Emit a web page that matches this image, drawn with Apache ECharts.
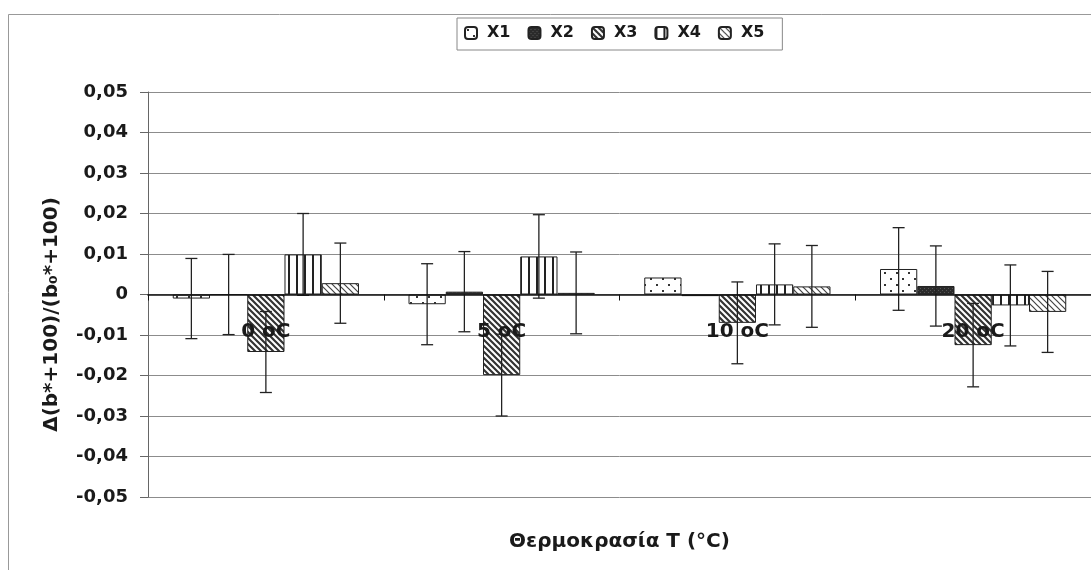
<!DOCTYPE html>
<html>
<head>
<meta charset="utf-8">
<style>
  html, body { margin: 0; padding: 0; background: #fff; }
  #chart { width: 1091px; height: 570px; }
</style>
<script src="https://cdn.jsdelivr.net/npm/echarts@6/dist/echarts.min.js"></script>
</head>
<body>
<div id="chart"></div>
<script>
// categories and values
var categories = ['0 oC', '5 oC', '10 oC', '20 oC'];
var seriesNames = ['X1', 'X2', 'X3', 'X4', 'X5'];

var x1 = [-0.0010, -0.0024, 0.0042, 0.0063];
var x2 = [0.0000, 0.0007, -0.0004, 0.0021];
var x3 = [-0.0142, -0.0199, -0.0070, -0.0125];
var x4 = [0.0099, 0.0094, 0.0025, -0.0027];
var x5 = [0.0028, 0.0004, 0.0020, -0.0043];

// error bar half-lengths (null = not drawn)
var e1 = [0.0099, 0.0100, null, 0.0102];
var e2 = [0.0099, 0.0099, null, 0.0099];
var e3 = [0.0100, 0.0101, 0.0101, 0.0103];
var e4 = [0.0101, 0.0103, 0.0100, 0.0100];
var e5 = [0.0099, 0.0101, 0.0101, 0.0100];

var values = [x1, x2, x3, x4, x5];
var errors = [e1, e2, e3, e4, e5];

var FONT = 'DejaVu Sans';
var CAT_GAP = 0.21;

// hatch patterns, like the old excel fills
function makePattern(w, h, draw) {
    var c = document.createElement('canvas');
    c.width = w;
    c.height = h;
    var ctx = c.getContext('2d');
    draw(ctx, w, h);
    return { image: c, repeat: 'repeat' };
}

var patterns = [
    // X1 dots
    makePattern(12, 12, function (ctx, w, h) {
        ctx.fillStyle = '#fff';
        ctx.fillRect(0, 0, w, h);
        ctx.fillStyle = '#333';
        ctx.fillRect(2, 2, 2, 2);
        ctx.fillRect(8, 8, 2, 2);
    }),
    // X2 dark
    makePattern(4, 4, function (ctx, w, h) {
        ctx.fillStyle = '#2b2b2b';
        ctx.fillRect(0, 0, w, h);
        ctx.fillStyle = '#555';
        ctx.fillRect(0, 0, 1, 1);
        ctx.fillRect(2, 2, 1, 1);
    }),
    // X3 dense backslash stripes
    makePattern(6, 6, function (ctx, w, h) {
        ctx.fillStyle = '#fff';
        ctx.fillRect(0, 0, w, h);
        ctx.strokeStyle = '#333';
        ctx.lineWidth = 2.2;
        ctx.beginPath();
        ctx.moveTo(-1, -1); ctx.lineTo(7, 7);
        ctx.moveTo(-4, 2); ctx.lineTo(4, 10);
        ctx.moveTo(2, -4); ctx.lineTo(10, 4);
        ctx.stroke();
    }),
    // X4 vertical stripes
    makePattern(8, 4, function (ctx, w, h) {
        ctx.fillStyle = '#fff';
        ctx.fillRect(0, 0, w, h);
        ctx.fillStyle = '#222';
        ctx.fillRect(0, 0, 2, h);
    }),
    // X5 thin backslash hatch
    makePattern(6, 6, function (ctx, w, h) {
        ctx.fillStyle = '#fff';
        ctx.fillRect(0, 0, w, h);
        ctx.strokeStyle = '#444';
        ctx.lineWidth = 1.2;
        ctx.beginPath();
        ctx.moveTo(-1, -1); ctx.lineTo(7, 7);
        ctx.moveTo(-4, 2); ctx.lineTo(4, 10);
        ctx.moveTo(2, -4); ctx.lineTo(10, 4);
        ctx.stroke();
    })
];

function errorSeries(idx) {
    var data = [];
    values[idx].forEach(function (v, i) {
        var e = errors[idx][i];
        if (e != null) data.push([i, v - e, v + e]);
    });
    return {
        type: 'custom',
        name: 'err' + idx,
        silent: true,
        z: 10,
        data: data,
        encode: { x: 0, y: [1, 2] },
        renderItem: function (params, api) {
            var cat = api.value(0);
            var lo = api.coord([cat, api.value(1)]);
            var hi = api.coord([cat, api.value(2)]);
            var catW = api.size([1, 0])[0];
            var barW = catW * (1 - CAT_GAP) / seriesNames.length;
            var x = lo[0] + (idx - 2) * barW;
            var cap = 6;
            var st = { stroke: '#222', lineWidth: 1.3 };
            return {
                type: 'group',
                children: [
                    { type: 'line', shape: { x1: x, y1: hi[1], x2: x, y2: lo[1] }, style: st },
                    { type: 'line', shape: { x1: x - cap, y1: hi[1], x2: x + cap, y2: hi[1] }, style: st },
                    { type: 'line', shape: { x1: x - cap, y1: lo[1], x2: x + cap, y2: lo[1] }, style: st }
                ]
            };
        }
    };
}

var chart = echarts.init(document.getElementById('chart'));

var series = seriesNames.map(function (name, i) {
    return {
        name: name,
        type: 'bar',
        data: values[i],
        barGap: '0%',
        barCategoryGap: (CAT_GAP * 100) + '%',
        itemStyle: {
            color: patterns[i],
            borderColor: '#222',
            borderWidth: 1
        }
    };
});
for (var k = 0; k < seriesNames.length; k++) series.push(errorSeries(k));

var option = {
    backgroundColor: '#fff',
    animation: false,
    graphic: [{
        type: 'rect',
        shape: { x: 8.5, y: 14.5, width: 1200, height: 700 },
        style: { fill: 'none', stroke: '#999', lineWidth: 1 },
        silent: true,
        z: -10
    }],
    legend: {
        data: seriesNames,
        top: 18,
        left: 457,
        itemWidth: 12,
        itemHeight: 12,
        itemGap: 17,
        padding: [7, 18, 9, 7],
        borderColor: '#888',
        borderWidth: 1,
        textStyle: {
            fontFamily: FONT,
            fontWeight: 'bold',
            fontSize: 16,
            color: '#1a1a1a',
            padding: [0, 0, 0, 5]
        }
    },
    grid: { left: 148, right: 0, top: 92, bottom: 73, containLabel: false, outerBoundsMode: 'none' },
    xAxis: {
        type: 'category',
        data: categories,
        z: 20,
        name: 'Θερμοκρασία T (°C)',
        nameLocation: 'middle',
        nameGap: 35,
        nameTextStyle: { fontFamily: FONT, fontWeight: 'bold', fontSize: 20, color: '#1a1a1a' },
        axisLine: { onZero: true, lineStyle: { color: '#111', width: 1.5 } },
        axisTick: { show: true, length: 6, lineStyle: { color: '#111' } },
        axisLabel: {
            interval: 0,
            // labels sit just under the zero line, as in the excel original
            margin: -175,
            fontFamily: FONT,
            fontWeight: 'bold',
            fontSize: 20,
            color: '#1a1a1a'
        }
    },
    yAxis: {
        type: 'value',
        min: -0.05,
        max: 0.05,
        interval: 0.01,
        name: 'Δ(b*+100)/(b₀*+100)',
        nameLocation: 'middle',
        nameRotate: 90,
        nameGap: 86,
        nameTextStyle: {
            fontFamily: FONT, fontWeight: 'bold', fontSize: 20, color: '#1a1a1a',
            padding: [0, 40, 0, 0]
        },
        axisLine: { show: true, lineStyle: { color: '#666', width: 1 } },
        axisTick: { show: true, length: 8, lineStyle: { color: '#666' } },
        splitLine: { show: true, lineStyle: { color: '#8c8c8c', width: 1 } },
        axisLabel: {
            margin: 20,
            fontFamily: FONT,
            fontWeight: 'bold',
            fontSize: 18,
            color: '#1a1a1a',
            formatter: function (v) {
                if (Math.abs(v) < 1e-9) return '0';
                return v.toFixed(2).replace('.', ',');
            }
        }
    },
    series: series
};

chart.setOption(option);
</script>
</body>
</html>
